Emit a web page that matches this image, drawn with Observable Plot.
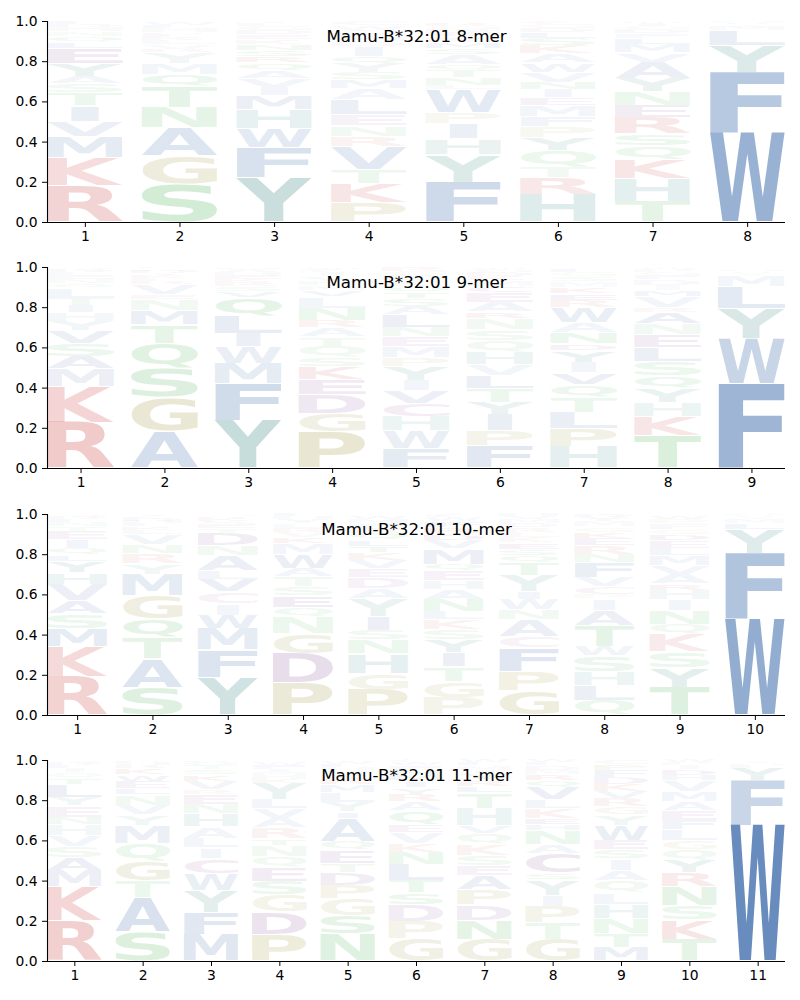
<!DOCTYPE html>
<html><head><meta charset="utf-8">
<script src="https://cdn.jsdelivr.net/npm/d3@7"></script>
<script src="https://cdn.jsdelivr.net/npm/@observablehq/plot@0.6"></script>
<style>
body{margin:0;background:#fff;}
#chart svg{display:block;}
</style>
</head><body><div id="chart"></div>
<script>
// Titles of the four panels
const titles = ["Mamu-B*32:01 8-mer","Mamu-B*32:01 9-mer","Mamu-B*32:01 10-mer","Mamu-B*32:01 11-mer"];

// Each position: [letter, frequency] from bottom to top of the stack
const logo8 = [
  [["R",.177],["K",.138],["M",.10],["V",.075],["I",.076],["T",.065],["S",.045],["A",.035],["Y",.06],["E",.075],["L",.03],["Q",.03],["N",.025],["H",.02],["D",.015],["F",.014]],
  [["S",.19],["G",.135],["A",.14],["N",.10],["T",.10],["Q",.06],["M",.055],["Y",.055],["R",.015],["V",.025],["L",.02],["K",.015],["E",.012],["D",.01],["H",.02],["F",.015],["W",.012],["C",.01]],
  [["Y",.22],["F",.15],["W",.095],["H",.095],["M",.07],["I",.04],["V",.045],["A",.04],["Q",.04],["R",.03],["S",.03],["N",.03],["K",.025],["E",.025],["D",.02],["G",.02],["L",.015],["T",.01]],
  [["P",.095],["K",.09],["T",.07],["V",.11],["R",.05],["N",.05],["E",.055],["L",.07],["A",.055],["M",.04],["S",.035],["Y",.045],["Q",.035],["I",.05],["D",.02],["H",.02],["F",.02],["G",.015],["W",.025],["C",.02]],
  [["F",.19],["Y",.13],["H",.075],["I",.07],["P",.055],["W",.11],["L",.02],["N",.035],["T",.035],["Q",.03],["A",.045],["S",.03],["M",.03],["K",.025],["E",.02],["D",.015],["G",.015],["R",.015],["C",.01]],
  [["H",.135],["R",.08],["T",.055],["Q",.08],["Y",.06],["P",.055],["F",.05],["M",.055],["E",.035],["I",.04],["N",.035],["V",.05],["W",.045],["A",.045],["K",.04],["S",.035],["L",.03],["D",.02],["G",.02],["C",.015]],
  [["T",.10],["H",.11],["K",.095],["Q",.065],["S",.06],["R",.08],["E",.06],["N",.065],["Y",.065],["A",.08],["V",.045],["M",.04],["L",.03],["F",.025],["D",.02],["G",.015],["I",.015],["W",.01]],
  [["W",.44],["F",.30],["Y",.13],["L",.075],["M",.02],["I",.01],["V",.01],["H",.008]]
];
const logo9 = [
  [["R",.22],["K",.17],["M",.085],["A",.06],["S",.065],["V",.06],["Y",.045],["H",.04],["I",.035],["T",.035],["L",.05],["Q",.02],["N",.02],["E",.02],["F",.015],["D",.015],["G",.01]],
  [["A",.18],["G",.165],["S",.14],["Q",.12],["T",.09],["M",.07],["N",.055],["E",.02],["V",.05],["R",.015],["L",.015],["K",.015],["Y",.01],["D",.012],["H",.01],["C",.008]],
  [["Y",.23],["F",.18],["M",.10],["W",.08],["I",.065],["L",.085],["Q",.09],["V",.03],["S",.025],["R",.02],["K",.015],["E",.02],["H",.015],["A",.015],["N",.01]],
  [["P",.175],["G",.09],["D",.09],["E",.075],["K",.06],["S",.045],["Q",.055],["T",.045],["A",.045],["R",.035],["N",.06],["L",.055],["V",.03],["M",.025],["H",.02],["Y",.015],["F",.01],["I",.02],["C",.015],["W",.01]],
  [["F",.09],["W",.085],["H",.07],["C",.06],["V",.06],["I",.05],["Y",.065],["P",.04],["M",.055],["E",.045],["N",.045],["L",.06],["A",.04],["S",.035],["T",.03],["Q",.03],["K",.025],["D",.025],["G",.02],["R",.02]],
  [["F",.105],["P",.07],["I",.075],["Y",.06],["T",.065],["L",.06],["V",.05],["H",.06],["Q",.055],["S",.05],["N",.055],["R",.03],["A",.045],["E",.045],["C",.03],["M",.025],["K",.02],["D",.02],["G",.015],["W",.01]],
  [["H",.10],["P",.085],["L",.075],["T",.07],["Q",.06],["V",.055],["I",.05],["Y",.055],["D",.03],["N",.055],["A",.045],["W",.07],["R",.035],["E",.03],["K",.03],["M",.025],["S",.025],["G",.02],["F",.015],["C",.01]],
  [["T",.15],["K",.09],["H",.065],["Y",.065],["Q",.06],["S",.07],["L",.065],["E",.06],["N",.05],["A",.055],["R",.02],["V",.05],["M",.03],["I",.025],["D",.025],["F",.02],["G",.015],["P",.015],["W",.01]],
  [["F",.41],["W",.22],["Y",.145],["L",.105],["M",.055],["I",.01],["V",.01],["H",.008],["A",.008],["C",.006]]
];
const logo10 = [
  [["R",.18],["K",.14],["M",.085],["S",.07],["A",.06],["V",.075],["H",.055],["Y",.055],["L",.03],["Q",.03],["I",.04],["E",.04],["T",.02],["N",.02],["F",.015],["D",.015],["G",.01]],
  [["S",.13],["A",.135],["T",.10],["Q",.09],["G",.11],["M",.10],["Y",.05],["R",.05],["N",.04],["V",.05],["L",.02],["K",.015],["E",.015],["H",.01],["D",.015],["F",.01],["I",.01]],
  [["Y",.18],["F",.13],["M",.10],["W",.065],["I",.055],["C",.055],["V",.06],["L",.04],["A",.075],["N",.045],["D",.06],["T",.02],["E",.02],["S",.015],["K",.015],["R",.01],["G",.01]],
  [["P",.15],["D",.135],["G",.095],["N",.08],["Q",.045],["E",.055],["S",.04],["T",.045],["A",.04],["W",.065],["M",.05],["K",.03],["V",.025],["R",.02],["L",.02],["Y",.02],["H",.015],["F",.01]],
  [["P",.12],["G",.075],["H",.09],["N",.065],["S",.045],["I",.065],["Y",.08],["A",.05],["D",.05],["E",.04],["V",.04],["K",.035],["T",.03],["L",.03],["Q",.03],["R",.025],["F",.02],["M",.02],["W",.015],["C",.01]],
  [["P",.08],["G",.075],["T",.065],["I",.065],["Y",.06],["S",.045],["K",.045],["L",.04],["N",.055],["A",.045],["H",.04],["E",.045],["Q",.03],["M",.07],["V",.04],["D",.03],["R",.03],["F",.025],["W",.02],["C",.015]],
  [["G",.115],["P",.09],["F",.11],["C",.055],["A",.08],["N",.045],["W",.05],["I",.035],["Y",.075],["T",.06],["Q",.035],["S",.03],["E",.03],["K",.025],["L",.025],["R",.02],["D",.02],["M",.02],["V",.015],["H",.01]],
  [["Q",.07],["L",.07],["H",.065],["S",.075],["W",.045],["T",.095],["A",.075],["I",.055],["P",.02],["C",.035],["V",.045],["F",.07],["N",.04],["R",.04],["E",.035],["K",.03],["G",.025],["M",.025],["Y",.02],["D",.015]],
  [["T",.13],["Y",.09],["S",.075],["K",.08],["Q",.045],["N",.065],["I",.05],["H",.045],["R",.03],["A",.045],["V",.04],["M",.045],["L",.035],["E",.035],["D",.03],["G",.025],["F",.025],["P",.02],["W",.015],["C",.01]],
  [["W",.46],["F",.32],["Y",.115],["L",.03],["M",.02],["I",.01],["V",.008],["H",.007]]
];
const logo11 = [
  [["R",.19],["K",.16],["M",.075],["A",.06],["S",.055],["V",.05],["H",.05],["N",.035],["E",.055],["Y",.04],["L",.06],["T",.03],["Q",.025],["I",.02],["F",.015],["D",.015],["G",.01]],
  [["S",.14],["A",.16],["T",.08],["G",.095],["Q",.085],["M",.085],["Y",.05],["V",.045],["N",.05],["L",.03],["E",.035],["W",.03],["K",.03],["R",.015],["H",.015],["D",.01]],
  [["M",.125],["F",.105],["Y",.105],["W",.08],["C",.07],["I",.05],["L",.045],["A",.055],["H",.06],["N",.045],["E",.05],["R",.02],["V",.04],["K",.03],["S",.025],["T",.02],["Q",.015],["D",.01]],
  [["P",.125],["D",.105],["G",.08],["S",.065],["E",.065],["Q",.05],["N",.055],["T",.03],["R",.05],["A",.045],["V",.045],["L",.045],["Y",.075],["K",.02],["H",.02],["M",.015],["I",.01],["F",.02],["W",.015],["C",.01]],
  [["N",.125],["S",.083],["G",.077],["P",.062],["D",.057],["T",.043],["E",.06],["Q",.04],["A",.105],["I",.03],["Y",.045],["L",.045],["M",.035],["R",.025],["K",.02],["V",.02],["H",.015],["F",.015],["W",.01],["C",.008]],
  [["G",.10],["P",.08],["D",.075],["S",.055],["T",.055],["L",.075],["N",.055],["K",.04],["V",.05],["E",.035],["Q",.065],["A",.04],["R",.035],["Y",.03],["I",.03],["M",.025],["H",.025],["F",.02],["W",.015],["C",.01]],
  [["G",.10],["N",.085],["D",.07],["P",.07],["A",.065],["E",.045],["S",.045],["K",.05],["Q",.05],["V",.035],["H",.08],["T",.07],["L",.03],["R",.03],["Y",.025],["I",.02],["M",.02],["F",.015],["W",.01]],
  [["G",.10],["T",.075],["P",.075],["I",.05],["Y",.07],["S",.03],["C",.09],["A",.04],["N",.065],["H",.025],["E",.03],["K",.045],["L",.04],["V",.055],["Q",.03],["R",.03],["M",.02],["D",.02],["F",.015],["W",.01]],
  [["M",.06],["T",.06],["N",.065],["H",.06],["L",.05],["Q",.05],["A",.045],["I",.05],["S",.04],["E",.04],["W",.065],["Y",.045],["G",.035],["R",.035],["V",.03],["K",.03],["D",.03],["F",.03],["P",.025],["C",.02]],
  [["T",.10],["K",.09],["S",.065],["N",.085],["R",.065],["Y",.055],["Q",.05],["G",.04],["L",.05],["F",.045],["E",.045],["A",.04],["M",.045],["V",.05],["H",.025],["D",.025],["I",.02],["P",.015],["W",.01]],
  [["W",.655],["F",.215],["Y",.06],["L",.015],["M",.01],["I",.008],["V",.007]]
];
const logos = [logo8, logo9, logo10, logo11];
const yTicks = [0, 0.2, 0.4, 0.6, 0.8, 1.0];

// Amino-acid colour groups
const colors = {
  R:"#c83232", K:"#c83232",
  H:"#3f8c8c", Y:"#287d76",
  F:"#285ca2", W:"#285ca2", A:"#3c68a8", V:"#3c68a8", L:"#3c68a8", I:"#3c68a8", M:"#3c68a8",
  S:"#3caa46", T:"#3caa46", N:"#3caa46", Q:"#3caa46",
  G:"#968c28", P:"#968c28",
  D:"#7a3c8c", E:"#7a3c8c", C:"#8a4a8c"
};

function stack(cols) {
  const rows = [];
  cols.forEach((col, i) => {
    const tot = d3.sum(col, d => d[1]);
    let c = 0;
    col.forEach(([letter, h]) => {
      const v = h / tot;
      rows.push({pos: i + 1, letter, y0: c, y1: c + v, h: v});
      c += v;
    });
  });
  return rows;
}

// glyph ink metrics
const cnv = document.createElement("canvas").getContext("2d");
const FONT = '"DejaVu Sans"';
cnv.font = `bold 100px ${FONT}`;
const metrics = {};
function metric(ch) {
  if (!metrics[ch]) {
    const m = cnv.measureText(ch);
    metrics[ch] = {L: m.actualBoundingBoxLeft, R: m.actualBoundingBoxRight, A: m.actualBoundingBoxAscent, D: m.actualBoundingBoxDescent};
  }
  return metrics[ch];
}

function scaleFn(sc) {
  return sc.apply ? (v => sc.apply(v)) : d3.scaleLinear(sc.domain, sc.range);
}

const chart = document.getElementById("chart");
logos.forEach((cols, k) => {
  const n = cols.length;
  const rows = stack(cols);
  const xDomain = [0.6, n + 0.4];
  const plot = Plot.plot({
    width: 800, height: 246.3,
    marginLeft: 47, marginRight: 15, marginTop: 21, marginBottom: 24.3,
    style: {fontFamily: FONT, fontSize: "13.9px", color: "black", background: "white", overflow: "visible"},
    x: {domain: xDomain},
    y: {domain: [0, 1]},
    color: {type: "identity"},
    opacity: {type: "identity"},
    marks: [
      Plot.text(rows, {
        x: "pos", y: d => (d.y0 + d.y1) / 2, text: "letter",
        fill: d => colors[d.letter],
        fillOpacity: d => Math.min(1, 0.03 + d.h)
      }),
      Plot.ruleY([0], {stroke: "black", strokeWidth: 1.1}),
      Plot.ruleX([xDomain[0]], {stroke: "black", strokeWidth: 1.1}),
      Plot.axisX({ticks: d3.range(1, n + 1), tickFormat: d => String(d), tickSize: 5, tickPadding: 4, label: null, fontSize: 13.9}),
      Plot.axisY({ticks: yTicks, tickFormat: d3.format(".1f"), tickSize: 5, tickPadding: 5, label: null, fontSize: 13.9}),
      Plot.text([titles[k]], {frameAnchor: "top", dy: 15, lineAnchor: "middle", text: d => d, fontSize: 16.7, fill: "black"})
    ]
  });
  chart.appendChild(plot);

  // stretch each glyph so that its ink fills the stack box
  const xs = scaleFn(plot.scale("x")), ys = scaleFn(plot.scale("y"));
  const g = plot.querySelector('g[aria-label="text"]');
  g.removeAttribute("transform");
  const mE = metric("E");
  const wE = mE.L + mE.R;
  g.querySelectorAll("text").forEach((t, i) => {
    const d = rows[i];
    const m = metric(d.letter);
    const w = m.L + m.R, hInk = m.A + m.D;
    const bx0 = xs(d.pos - 0.4), bx1 = xs(d.pos + 0.4);
    const bw = bx1 - bx0, cx = (bx0 + bx1) / 2;
    let yb = ys(d.y0), yt = ys(d.y1);
    const pad = Math.min(0.5, (yb - yt) * 0.08);
    yb -= pad; yt += pad;
    const sx = Math.min(bw / w, bw / wE);
    const sy = Math.max(0.0001, (yb - yt) / hInk);
    const tx = cx - sx * (m.R - m.L) / 2;
    const ty = yb - m.D * sy;
    t.removeAttribute("x"); t.removeAttribute("y"); t.removeAttribute("dy");
    t.setAttribute("text-anchor", "start");
    t.setAttribute("font-family", FONT);
    t.setAttribute("font-weight", "bold");
    t.setAttribute("font-size", "100px");
    t.setAttribute("transform", `translate(${tx},${ty}) scale(${sx},${sy})`);
  });
});
</script>
</body></html>
